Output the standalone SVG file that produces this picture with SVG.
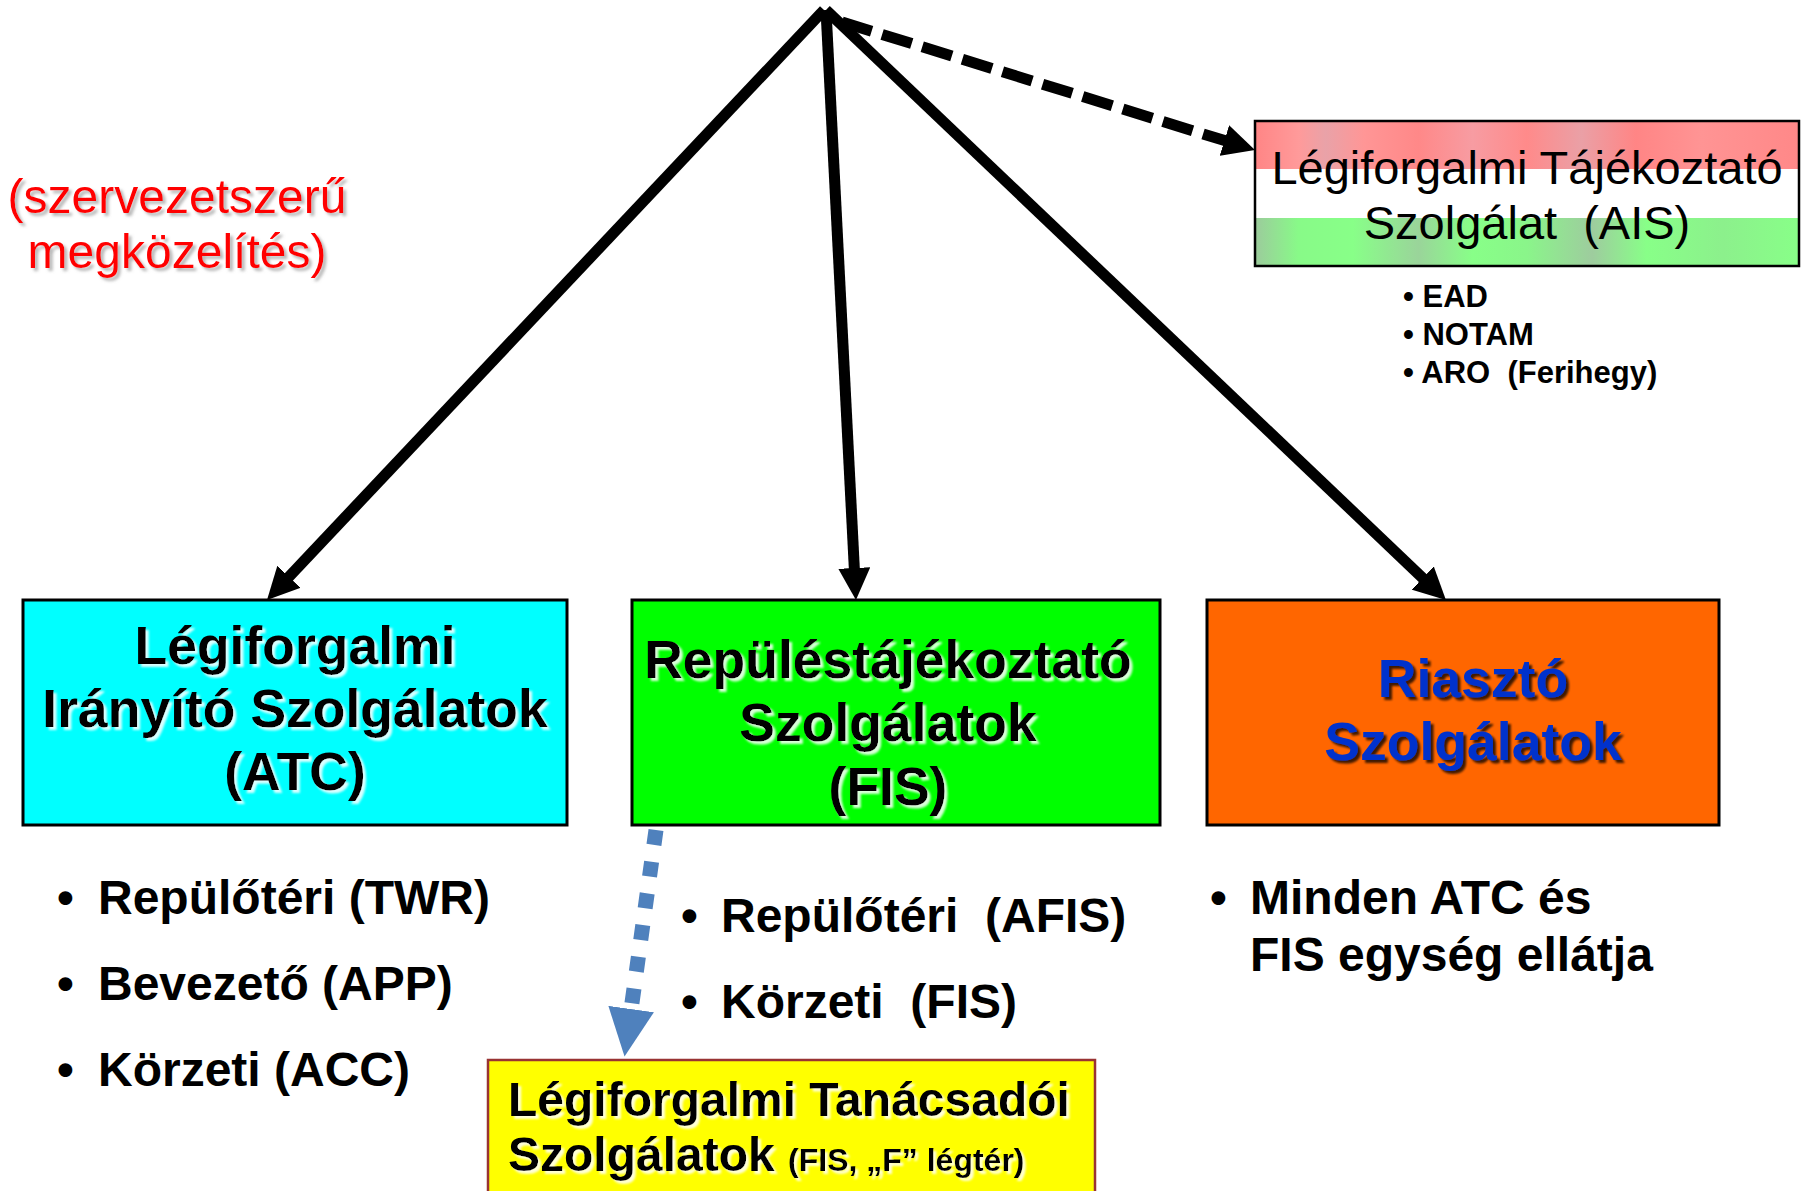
<svg xmlns="http://www.w3.org/2000/svg" width="1804" height="1191" viewBox="0 0 1804 1191">
<style>
.t{font-family:"Liberation Sans",Arial,Helvetica,sans-serif}
.box{stroke:#000;stroke-width:3}
.title{font-weight:bold;font-size:53.5px;text-anchor:middle;fill:#000}
.bul{font-weight:bold;font-size:48px;fill:#000}
.ais{font-size:47px;text-anchor:middle;fill:#000}
.aisb{font-weight:bold;font-size:31px;fill:#000}
.conn{stroke:#000;stroke-width:11;fill:none}
.dash{stroke-dasharray:31 11}
.blue{stroke:#4F81BD;stroke-width:15;fill:none;stroke-dasharray:15 17}
</style>
<defs>
<marker id="ah" markerUnits="userSpaceOnUse" viewBox="0 0 32 32" markerWidth="32" markerHeight="32" refX="2" refY="16" orient="auto">
<path d="M0,0 L32,16 L0,32 Z" fill="#000"/>
</marker>
<marker id="ahb" markerUnits="userSpaceOnUse" viewBox="0 0 48 46" markerWidth="48" markerHeight="46" refX="1" refY="23" orient="auto">
<path d="M0,0 L48,23 L0,46 Z" fill="#4F81BD"/>
</marker>
<filter id="shW" x="-5%" y="-30%" width="110%" height="160%">
<feDropShadow dx="3" dy="3" stdDeviation="1" flood-color="#FFFFFF" flood-opacity="0.85"/>
</filter>
<filter id="shK" x="-5%" y="-30%" width="110%" height="160%">
<feDropShadow dx="3" dy="3" stdDeviation="1" flood-color="#000000" flood-opacity="0.75"/>
</filter>
<filter id="shG" x="-5%" y="-30%" width="110%" height="160%">
<feDropShadow dx="3" dy="3" stdDeviation="1.5" flood-color="#888888" flood-opacity="0.6"/>
</filter>
<linearGradient id="gRed" x1="0" y1="0" x2="1" y2="0">
<stop offset="0" stop-color="#FF8585"/>
<stop offset="0.08" stop-color="#FF9A9A"/>
<stop offset="0.13" stop-color="#E9A2A8"/>
<stop offset="0.2" stop-color="#FF9696"/>
<stop offset="0.3" stop-color="#FF8888"/>
<stop offset="0.4" stop-color="#F79CA2"/>
<stop offset="0.5" stop-color="#FF8A8A"/>
<stop offset="0.6" stop-color="#EAA0A6"/>
<stop offset="0.7" stop-color="#FF8585"/>
<stop offset="0.82" stop-color="#FF9494"/>
<stop offset="1" stop-color="#FF8888"/>
</linearGradient>
<linearGradient id="gGreen" x1="0" y1="0" x2="1" y2="0">
<stop offset="0" stop-color="#9CCB9C"/>
<stop offset="0.08" stop-color="#88FA88"/>
<stop offset="0.18" stop-color="#88FF88"/>
<stop offset="0.3" stop-color="#9AD49A"/>
<stop offset="0.4" stop-color="#88FF88"/>
<stop offset="0.5" stop-color="#8AF58A"/>
<stop offset="0.62" stop-color="#9ECC9E"/>
<stop offset="0.72" stop-color="#88FF88"/>
<stop offset="0.86" stop-color="#8CF08C"/>
<stop offset="1" stop-color="#88FF88"/>
</linearGradient>
</defs>

<g id="note" class="t" filter="url(#shG)">
<text x="177" y="213" font-size="48" fill="#FF0000" text-anchor="middle">(szervezetszerű</text>
<text x="177" y="268" font-size="48" fill="#FF0000" text-anchor="middle">megközelítés)</text>
</g>

<g id="ais">
<rect x="1255" y="121" width="544" height="48" fill="url(#gRed)"/>
<rect x="1255" y="169" width="544" height="49" fill="#FFFFFF"/>
<rect x="1255" y="218" width="544" height="48" fill="url(#gGreen)"/>
<rect x="1255" y="121" width="544" height="145" fill="none" stroke="#000" stroke-width="2.5"/>
<text class="t ais" x="1527" y="184">Légiforgalmi Tájékoztató</text>
<text class="t ais" x="1527" y="239" xml:space="preserve">Szolgálat  (AIS)</text>
</g>

<g id="ais-list" class="t">
<text class="aisb" x="1403" y="307" xml:space="preserve">• EAD</text>
<text class="aisb" x="1403" y="345" xml:space="preserve">• NOTAM</text>
<text class="aisb" x="1403" y="383" xml:space="preserve">• ARO  (Ferihegy)</text>
</g>

<g id="atc">
<rect class="box" x="23" y="600" width="544" height="225" fill="#00FFFF"/>
<g class="t title" filter="url(#shW)">
<text x="295" y="664">Légiforgalmi</text>
<text x="295" y="727">Irányító Szolgálatok</text>
<text x="295" y="790">(ATC)</text>
</g>
</g>

<g id="fis">
<rect class="box" x="632" y="600" width="528" height="225" fill="#00FF00"/>
<g class="t title" filter="url(#shW)">
<text x="888" y="678">Repüléstájékoztató</text>
<text x="888" y="741">Szolgálatok</text>
<text x="888" y="805">(FIS)</text>
</g>
</g>

<g id="alert">
<rect class="box" x="1207" y="600" width="512" height="225" fill="#FF6600"/>
<g class="t title" filter="url(#shK)" style="fill:#0033CC">
<text x="1473" y="697">Riasztó</text>
<text x="1473" y="760">Szolgálatok</text>
</g>
</g>

<g id="atc-list" class="t bul">
<text x="57" y="914">•</text><text x="98" y="914">Repülőtéri (TWR)</text>
<text x="57" y="1000">•</text><text x="98" y="1000">Bevezető (APP)</text>
<text x="57" y="1086">•</text><text x="98" y="1086">Körzeti (ACC)</text>
</g>

<g id="fis-list" class="t bul">
<text x="681" y="932">•</text><text x="721" y="932" xml:space="preserve">Repülőtéri  (AFIS)</text>
<text x="681" y="1018">•</text><text x="721" y="1018" xml:space="preserve">Körzeti  (FIS)</text>
</g>

<g id="alert-list" class="t bul">
<text x="1210" y="914">•</text><text x="1250" y="914">Minden ATC és</text>
<text x="1250" y="971">FIS egység ellátja</text>
</g>

<g id="afis">
<rect x="488" y="1060" width="607" height="140" fill="#FFFF00" stroke="#993333" stroke-width="2.5"/>
<g class="t" filter="url(#shW)">
<text class="bul" x="508" y="1116">Légiforgalmi Tanácsadói</text>
<text class="bul" x="508" y="1171">Szolgálatok <tspan font-size="32">(FIS, „F” légtér)</tspan></text>
</g>
</g>

<g id="connectors">
<line class="conn" x1="824" y1="10" x2="287.6" y2="578.2" marker-end="url(#ah)"/>
<line class="conn" x1="826" y1="10" x2="854.4" y2="570" marker-end="url(#ah)"/>
<line class="conn" x1="826" y1="10" x2="1424.2" y2="579.4" marker-end="url(#ah)"/>
<line class="conn dash" x1="842" y1="22" x2="1226.3" y2="141.1" marker-end="url(#ah)"/>
<line class="blue" x1="656" y1="830" x2="631" y2="1010" marker-end="url(#ahb)"/>
</g>
</svg>
